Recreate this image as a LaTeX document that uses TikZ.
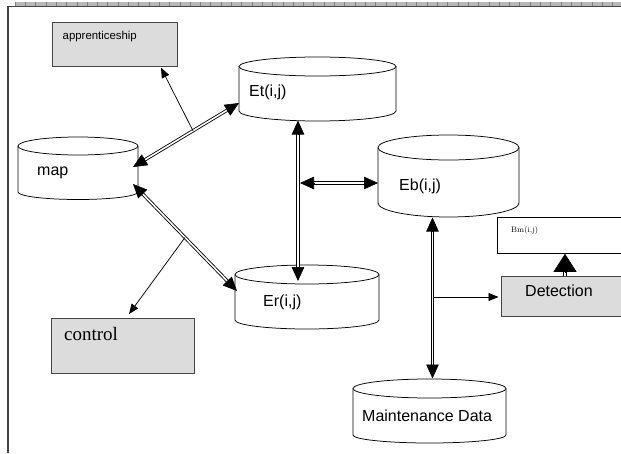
\documentclass[tikz,border=0pt]{standalone}
\usepackage{fontspec}
\setsansfont{Liberation Sans}
\newfontfamily\timesfont{Liberation Serif}
\usetikzlibrary{arrows.meta,calc}
\definecolor{boxgray}{HTML}{DCDCDC}
\definecolor{framegray}{HTML}{444444}
\newcommand\dbcyl[6]{%
  \pgfmathsetmacro\dbcx{(#1+#2)/2}\pgfmathsetmacro\dbrx{(#2-#1)/2}%
  \fill[white] (#1,#3) -- (#1,#5) arc[start angle=180,end angle=0,x radius=\dbrx,y radius=#6] -- (#2,#3) -- cycle;
  \draw[cylline] (#1,#3) -- (#1,#5) arc[start angle=180,end angle=0,x radius=\dbrx,y radius=#6] -- (#2,#3);
  \draw[cylline,fill=white] (\dbcx,#3) ellipse[x radius=\dbrx,y radius=#4];}
% double connector with a head at both ends
\newcommand\dblink[2]{%
  \draw[dline, shorten <=8pt, shorten >=8pt] (#1) -- (#2);
  \draw[tipstyle] ($(#1)!14pt!(#2)$) -- (#1);
  \draw[tipstyle] ($(#2)!14pt!(#1)$) -- (#2);}
\tikzset{
  lbl/.style={font=\sffamily\fontsize{16}{16}\selectfont, inner sep=0pt, anchor=base west},
  graybox/.style={draw=framegray, line width=0.8pt, fill=boxgray, inner sep=0pt, anchor=north west},
  whitebox/.style={draw=black, line width=0.8pt, fill=white, inner sep=0pt, anchor=north west},
  cylline/.style={line width=0.75pt},
  dline/.style={draw, line width=0.85pt, double=white, double distance=1.6pt},
  tipstyle/.style={draw, line width=0.6pt, -{Triangle[length=14pt,width=12.5pt]}},
  bigtip/.style={draw, line width=0.6pt, -{Triangle[length=18pt,width=23pt]}},
  sarrow/.style={draw, line width=0.75pt, -{Triangle[length=10pt,width=8pt]}},
}
\begin{document}
\begin{tikzpicture}[x=1pt,y=-1pt]
\useasboundingbox (0,0) rectangle (621,453);
\clip (0,0) rectangle (621,453);
% top band and frame
\fill[black!28] (15,1.5) rectangle (621,5.5);
\foreach \t in {15,25.3,...,621} \draw[black!50, line width=0.6pt] (\t,1.5) -- (\t,5.5);
\draw[framegray, line width=1.3pt] (8,453) -- (8,6.6) -- (621,6.6);

% boxes
\node[graybox, minimum width=125pt, minimum height=44pt] (apprbox) at (52,22) {};
\node[lbl, font=\sffamily\fontsize{11.4}{12}\selectfont] (appr) at (62.5,39) {apprenticeship};
\node[graybox, minimum width=143pt, minimum height=55pt] (ctrlbox) at (51,318) {};
\node[lbl, font=\timesfont\fontsize{19}{20}\selectfont] (ctrl) at (64,340) {control};
\node[whitebox, minimum width=127pt, minimum height=36pt] (bmbox) at (497,217) {};
\node[inner sep=0pt, anchor=base west, font=\fontsize{8}{9}\selectfont] (bm) at (511,232) {Bm(i,j)};
\node[graybox, minimum width=124pt, minimum height=40pt] (detbox) at (501,276) {};
\node[lbl] (det) at (525,296) {Detection};

% cylinders
\dbcyl{18}{138}{146}{9}{192}{7.5}
\node[lbl] (map) at (37,175) {map};
\dbcyl{239}{396}{66.5}{9.5}{111}{10}
\node[lbl] (et) at (249,96) {Et(i,j)};
\dbcyl{378}{519}{147.5}{12.5}{203}{14}
\node[lbl] (eb) at (399,190) {Eb(i,j)};
\dbcyl{235}{379}{274.5}{9.5}{320}{9}
\node[lbl] (er) at (263,306) {Er(i,j)};
\dbcyl{353}{506}{388.5}{9.5}{435}{8}
\node[lbl] (maint) at (362,421) {Maintenance Data};

% connector end points
\coordinate (mapTR) at (133,167);
\coordinate (mapBR) at (133,184);
\coordinate (etBL) at (239,103);
\coordinate (etB) at (298,120.5);
\coordinate (erL) at (237,291);
\coordinate (erT) at (298,281);
\coordinate (ebL) at (378,183);
\coordinate (ebB) at (432.5,217.5);
\coordinate (maintT) at (432.5,378.5);
\coordinate (vEtEr) at (300,183);
\coordinate (vEbM) at (433.5,297);
\coordinate (detT) at ($(detbox.north west)+(64,0)$);
\coordinate (bmB) at ($(bmbox.south west)+(68,0)$);

% connectors
\dblink{mapTR}{etBL}
\draw[sarrow] ($(mapTR)!0.566!(etBL)$) -- ($(apprbox.south west)+(109,1)$);
\dblink{mapBR}{erL}
\draw[sarrow] ($(mapBR)!0.5!(erL)$) -- ($(ctrlbox.north west)+(78,-4)$);
\dblink{etB}{erT}
\dblink{vEtEr}{ebL}
\dblink{ebB}{maintT}
\draw[sarrow] (vEbM) -- ($(detbox.north west)+(-2.5,21)$);
\draw[dline, shorten >=10pt] (detT) -- (bmB);
\draw[bigtip] ($(bmB)!18pt!(detT)$) -- (bmB);
\end{tikzpicture}
\end{document}
